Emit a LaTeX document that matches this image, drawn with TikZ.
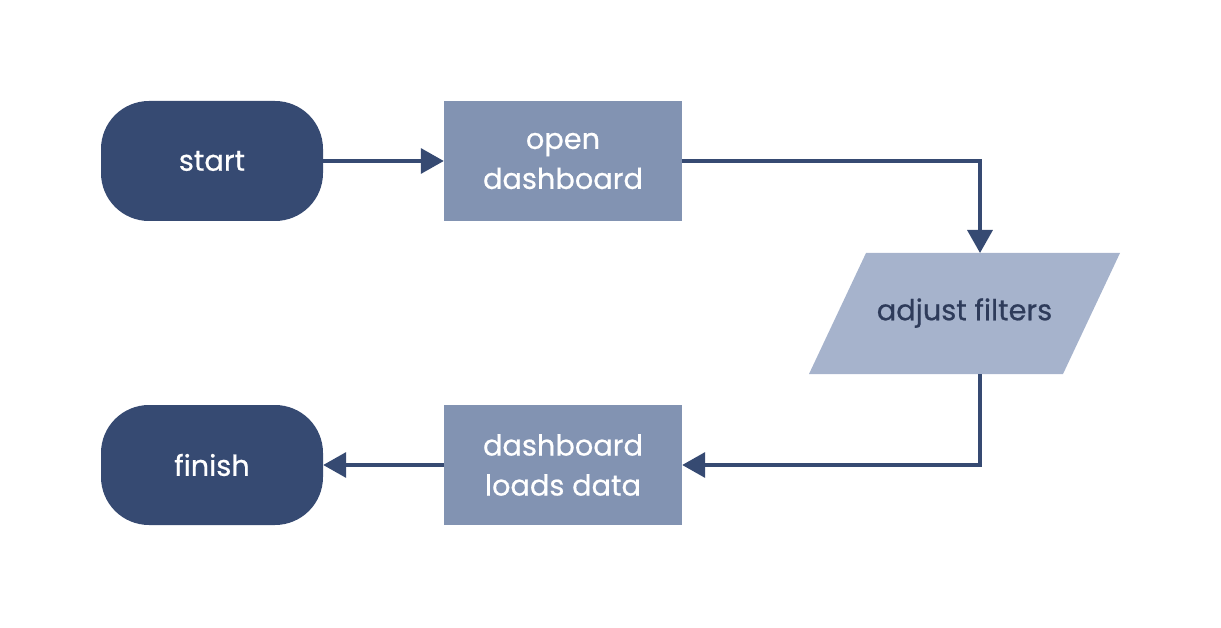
\documentclass[tikz,border=0pt]{standalone}
\usepackage{fontspec}
\setmainfont{Poppins}[FakeBold=0.6]
\usetikzlibrary{arrows.meta}
\definecolor{darkblue}{HTML}{364A72}
\definecolor{midblue}{HTML}{8293B2}
\definecolor{lightblue}{HTML}{A6B3CC}
\definecolor{textdark}{HTML}{2E3B5A}
\tikzset{
  terminal/.style={fill=darkblue, rounded corners=48pt, minimum width=222pt, minimum height=120pt, text=white, inner sep=0pt},
  process/.style={fill=midblue, minimum width=238pt, minimum height=120pt, text=white, align=center, inner sep=0pt},
  label/.style={text=textdark, inner sep=0pt},
  conn/.style={draw=darkblue, line width=3.5pt, -{Triangle[length=23pt,width=25pt]}},
  txt/.style={font=\fontsize{28.8}{40}\selectfont}
}
\begin{document}
\begin{tikzpicture}[x=1pt,y=-1pt]
\useasboundingbox (0,0) rectangle (1221,628);
\node[terminal,txt] (start) at (212,161) {start};
\node[process,txt] (open) at (563,161) {open\\dashboard};
\fill[lightblue] (866,253) -- (1120,253) -- (1063,374) -- (809,374) -- cycle;
\node[label,txt] (adjust) at (964.5,313) {adjust filters};
\coordinate (adjtop) at (980,253);
\coordinate (adjbot) at (980,374);
\node[process,txt] (loads) at (563,465) {dashboard\\loads data};
\node[terminal,txt] (finish) at (212,465) {finish};
\draw[conn] (start.east) -- (open.west);
\draw[conn] (open.east) -| (adjtop);
\draw[conn] (adjbot) |- (loads.east);
\draw[conn] (loads.west) -- (finish.east);
\end{tikzpicture}
\end{document}
